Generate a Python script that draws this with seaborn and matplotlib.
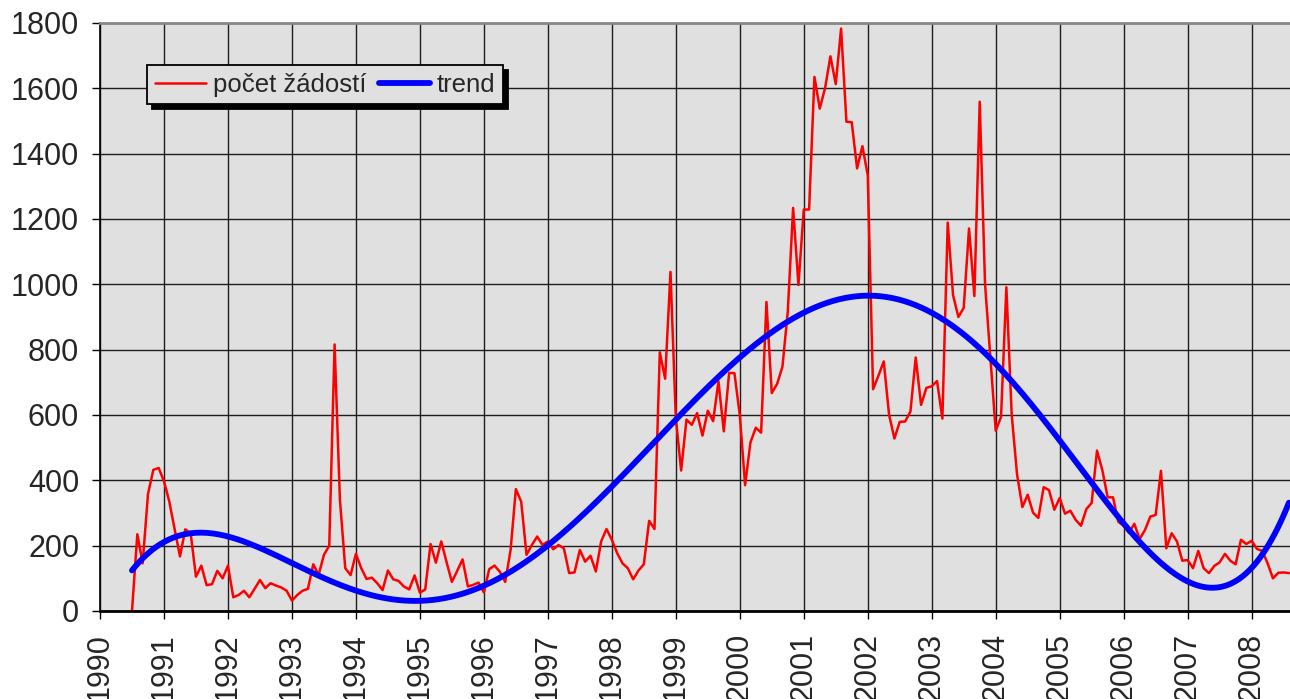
import numpy as np
import pandas as pd
import seaborn as sns
import matplotlib.pyplot as plt

# monthly number of applications, starting July 1990
pocet = [0, 235, 146, 358, 432, 438,
         397, 335, 250, 167, 250, 238, 105, 139, 79, 82, 123, 100,
         139, 42, 49, 62, 42, 68, 95, 70, 85, 78, 72, 62,
         32, 49, 62, 68, 143, 110, 172, 200, 816, 340, 131, 110,
         175, 131, 98, 102, 85, 64, 124, 97, 92, 75, 66, 109,
         56, 66, 205, 148, 213, 150, 89, 123, 158, 75, 80, 87,
         57, 128, 139, 120, 89, 185, 373, 335, 172, 202, 228, 202,
         213, 189, 202, 192, 116, 118, 187, 151, 169, 121, 213, 251,
         218, 177, 146, 131, 97, 124, 143, 276, 251, 792, 711, 1038,
         591, 430, 586, 570, 606, 537, 613, 581, 703, 550, 729, 728,
         600, 385, 516, 561, 546, 946, 667, 695, 748, 916, 1234, 998,
         1229, 1229, 1635, 1538, 1601, 1698, 1613, 1783, 1498, 1496, 1355, 1423,
         1334, 679, 720, 764, 601, 528, 579, 580, 610, 776, 631, 683,
         688, 704, 589, 1189, 967, 900, 928, 1171, 964, 1559, 1001, 776,
         552, 594, 991, 601, 419, 318, 356, 301, 285, 379, 370, 310,
         346, 298, 307, 279, 261, 312, 331, 491, 431, 348, 348, 273,
         261, 239, 267, 220, 248, 289, 294, 429, 192, 238, 213, 154,
         156, 131, 184, 131, 116, 138, 149, 175, 154, 143, 218, 205,
         215, 190, 184, 146, 100, 117, 118, 116]
roky = list(range(1990, 2009))
y_ticks = list(range(0, 1801, 200))

mesice = pd.date_range('1990-07-01', periods=len(pocet), freq='MS')
df = pd.DataFrame({'rok': mesice.year + (mesice.month - 1) / 12, 'pocet': pocet})

# polynomial trend (order 5), like the spreadsheet trendline
fit = np.polynomial.Polynomial.fit(df['rok'], df['pocet'], 5)
xs = np.linspace(df['rok'].min(), df['rok'].max(), 400)
trend = pd.DataFrame({'rok': xs, 'trend': fit(xs)})

sns.set_style('white', {'axes.facecolor': '#e0e0e0'})
plt.rcParams['font.family'] = ['Liberation Sans', 'DejaVu Sans']

fig = plt.figure(figsize=(12.9, 6.99), dpi=100)
ax = fig.add_axes([100 / 1290, 1 - 611 / 699, 1 - 100 / 1290, (611 - 23) / 699])

sns.lineplot(data=df, x='rok', y='pocet', color='red', linewidth=1.8, ax=ax, label='počet žádostí')
sns.lineplot(data=trend, x='rok', y='trend', color='blue', linewidth=4.2, ax=ax, label='trend')

ax.set_xlim(1990, 2008.6)
ax.set_ylim(0, 1800)
ax.set_xticks(roky)
ax.set_xticklabels([str(r) for r in roky], rotation=90)
ax.set_yticks(y_ticks)
ax.grid(True, color='#1e1e1e', linewidth=1)
ax.set_axisbelow(True)
ax.set_xlabel('')
ax.set_ylabel('')
ax.tick_params(axis='both', labelsize=22, direction='out', length=6, width=1, color='black')
ax.tick_params(axis='x', pad=10, bottom=True)
ax.tick_params(axis='y', pad=9, left=True)

ax.spines['right'].set_visible(False)
ax.spines['top'].set_color('#888888')
ax.spines['top'].set_linewidth(2)
ax.spines['left'].set_color('black')
ax.spines['left'].set_linewidth(1.2)
ax.spines['bottom'].set_color('black')
ax.spines['bottom'].set_linewidth(2)

leg = ax.legend(loc='upper left', bbox_to_anchor=((147 - 100) / 1190, (611 - 65) / 588),
                borderaxespad=0, ncol=2, fontsize=18.5, frameon=True, fancybox=False,
                handlelength=2.0, handletextpad=0.25, columnspacing=0.5, borderpad=0.3,
                shadow={'color': 'black', 'alpha': 1, 'ox': 3.6, 'oy': -3.6})
leg.get_frame().set_facecolor('#e0e0e0')
leg.get_frame().set_edgecolor('black')
leg.get_frame().set_linewidth(1.3)
leg.get_frame().set_alpha(1)

fig.savefig('out.png', dpi=100)
